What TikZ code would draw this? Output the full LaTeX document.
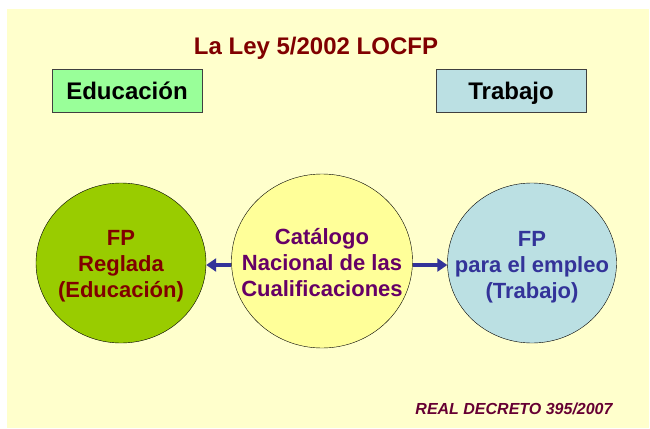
\documentclass[tikz,border=0pt]{standalone}
\usepackage{fontspec}
\setmainfont{Liberation Sans}
\usepackage{xcolor}
\usetikzlibrary{shapes.geometric, arrows.meta, positioning}

\definecolor{bgyellow}{HTML}{FFFFCC}
\definecolor{leafgreen}{HTML}{99CC00}
\definecolor{paleyellow}{HTML}{FFFF99}
\definecolor{paleblue}{HTML}{BBE0E3}
\definecolor{palegreen}{HTML}{99FF99}
\definecolor{maroon}{HTML}{800000}
\definecolor{plum}{HTML}{660066}
\definecolor{navy}{HTML}{333399}
\definecolor{wine}{HTML}{660033}

\begin{document}
\begin{tikzpicture}[
    x=1pt, y=-1pt,
    area/.style={rectangle, draw=black!75, thin, minimum width=150pt, minimum height=43pt, text height=21pt, text depth=3pt, font=\fontsize{24}{28}\selectfont\bfseries},
    field/.style={ellipse, draw=black, thin, inner sep=0pt},
    fieldtext/.style={align=center, inner sep=0pt, font=\fontsize{22}{26}\selectfont\bfseries},
    arrow/.style={-{Triangle[length=10pt, width=13pt]}, navy, line width=4pt}
]
\useasboundingbox (0,0) rectangle (650,428);
\fill[white] (0,0) rectangle (650,428);
\fill[bgyellow] (7,9) rectangle (649,428);

\node[anchor=base, text=maroon, font=\fontsize{24}{28}\selectfont\bfseries] (title) at (316,55) {La Ley 5/2002 LOCFP};

\node[area, fill=palegreen] (edu) at (127,90.5) {Educación};
\node[area, fill=paleblue] (work) at (511,90.5) {Trabajo};

% the three circles
\node[field, fill=leafgreen, minimum width=170pt, minimum height=160pt] (reglada) at (121,263) {};
\node[field, fill=paleyellow, minimum width=181pt, minimum height=174pt] (catalogo) at (322,261) {};
\node[field, fill=paleblue, minimum width=169pt, minimum height=160pt] (empleo) at (532,263) {};

\node[fieldtext, text=maroon, yshift=-3pt] (reglada-text) at (reglada) {FP\\Reglada\\(Educación)};
\node[fieldtext, text=plum, yshift=-2pt] (catalogo-text) at (catalogo) {Catálogo\\Nacional de las\\Cualificaciones};
\node[fieldtext, text=navy, yshift=-4pt] (empleo-text) at (empleo) {FP\\para el empleo\\(Trabajo)};

\node[text=wine, font=\fontsize{16}{19}\selectfont\bfseries\itshape] (decreto) at (514,409) {REAL DECRETO 395/2007};

\draw[arrow] ([yshift=-4pt]catalogo.west) -- ([yshift=-2pt]reglada.east);
\draw[arrow] ([yshift=-4pt]catalogo.east) -- ([yshift=-2pt]empleo.west);

\end{tikzpicture}
\end{document}
